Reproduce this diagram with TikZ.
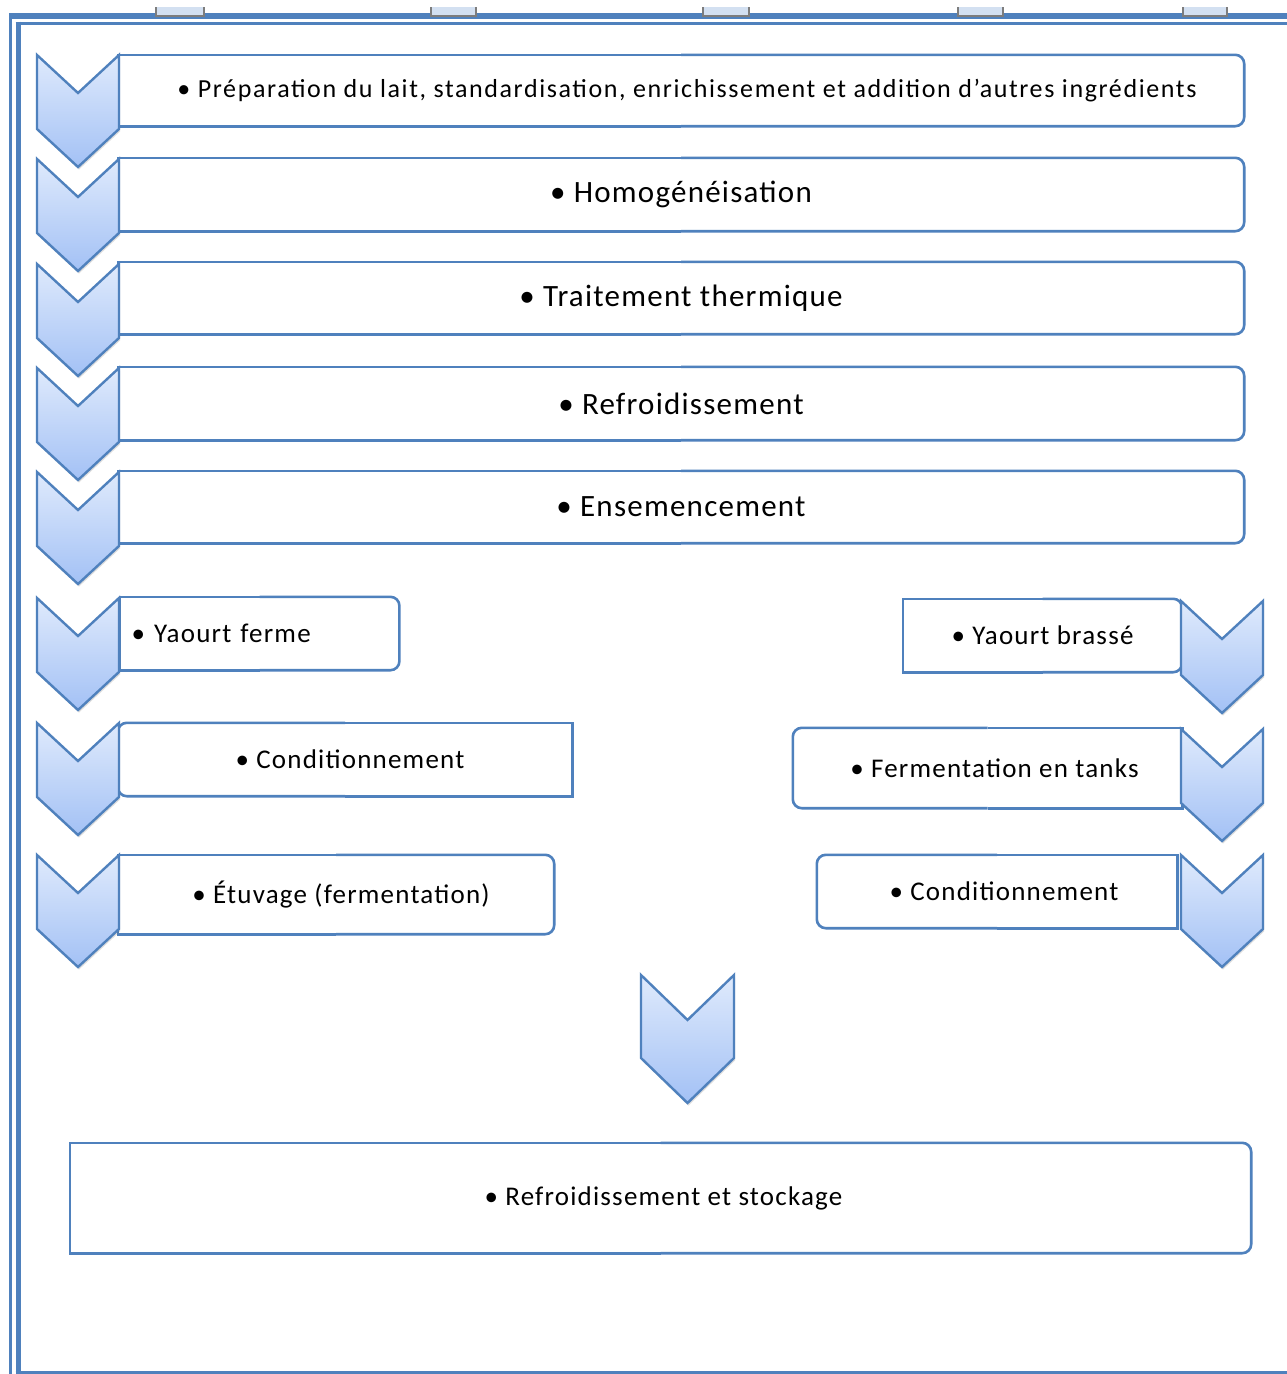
\documentclass[tikz,border=0pt]{standalone}
\usepackage{fontspec}
\setmainfont{Carlito}
\usetikzlibrary{shadows}

\definecolor{frameblue}{RGB}{79,129,189}
\definecolor{chevtop}{RGB}{223,234,252}
\definecolor{chevbot}{RGB}{163,193,245}
\definecolor{tabfill}{RGB}{211,224,241}
\definecolor{tabline}{RGB}{125,125,125}

% size and letter spacing of a label
\newcommand\ft[2]{\fontsize{#1}{#1}\selectfont\addfontfeature{LetterSpace=#2}}

% chevron: left x, top y, width, notch depth, total height
\newcommand\chevr[5]{%
  \path[chev] (#1,#2) -- ++(#3/2,#4) -- ++(#3/2,-#4) -- ++(0,#5-#4)
    -- ++(-#3/2,#4) -- ++(-#3/2,-#4) -- cycle;}

% outline of a box with rounded corners on the right only
\newcommand\roundright[1]{%
  \draw[boxline, rounded corners=9pt] (#1.north) -- (#1.north east) -- (#1.south east) -- (#1.south);
  \draw[boxline] (#1.south) -- (#1.south west) -- (#1.north west) -- (#1.north);}
% outline of a box with rounded corners on the left only
\newcommand\roundleft[1]{%
  \draw[boxline, rounded corners=9pt] (#1.north) -- (#1.north west) -- (#1.south west) -- (#1.south);
  \draw[boxline] (#1.south) -- (#1.south east) -- (#1.north east) -- (#1.north);}

\tikzset{
  stagebox/.style={fill=white, inner sep=0pt, text=black},
  bigtext/.style={font=\ft{31}{4}},
  smalltext/.style={font=\ft{27}{4.5}},
  boxline/.style={draw=frameblue, line width=2.6pt},
  chev/.style={draw=frameblue, line width=2.4pt, line join=miter,
    top color=chevtop, bottom color=chevbot,
    drop shadow={shadow xshift=1pt, shadow yshift=-2.5pt, opacity=.22, fill=black!60}},
  tab/.style={fill=tabfill},
  tabedge/.style={draw=tabline, line width=2pt},
}

\begin{document}
\begin{tikzpicture}[x=1pt, y=-1pt]
\useasboundingbox (0,0) rectangle (1287,1374);
\clip (0,0) rectangle (1287,1374);
\fill[white] (0,0) rectangle (1287,1374);

% page frame (double rule)
\draw[frameblue, line width=3pt] (10.5,13) -- (10.5,1380);
\draw[frameblue, line width=6pt] (9,16) -- (1300,16);
\draw[frameblue, line width=5pt] (18,21.5) -- (18,1373.5);
\draw[frameblue, line width=3pt] (15.5,23.5) -- (1300,23.5);
\draw[frameblue, line width=3pt] (15.5,1372) -- (1300,1372);

% tabs on the top rule
\foreach \a/\b in {155/205, 430/477, 702/750, 957/1004, 1182/1228}{
  \fill[tab] (\a,7) rectangle (\b,17);
  \draw[tabedge] (\a+1,7) -- (\a+1,16) -- (\b-1,16) -- (\b-1,7);
}

% common trunk
\node[stagebox, font=\ft{26}{6.2}, minimum width=1126pt, minimum height=71pt] (prep) at (681,90.5)
  {\hspace*{12pt}• Préparation du lait, standardisation, enrichissement et addition d’autres ingrédients};
\node[stagebox, bigtext, minimum width=1126pt, minimum height=73pt] (homo) at (681,194.5)
  {• Homogénéisation};
\node[stagebox, bigtext, minimum width=1126pt, minimum height=72pt] (trait) at (681,298)
  {• Traitement thermique};
\node[stagebox, bigtext, minimum width=1126pt, minimum height=73pt] (refr) at (681,403.5)
  {• Refroidissement};
\node[stagebox, bigtext, minimum width=1126pt, minimum height=72pt] (ense) at (681,507)
  {• Ensemencement};
\foreach \n in {prep,homo,trait,refr,ense} {\roundright{\n}}

% set yoghurt branch
\node[stagebox, smalltext, anchor=west, minimum width=279pt, minimum height=73pt,
      text width=270pt, align=left] (ferme) at (120,633.5) {\hspace*{7pt}• Yaourt ferme};
\node[stagebox, smalltext, minimum width=454pt, minimum height=73pt] (condA) at (345,759.5)
  {\hspace*{10pt}• Conditionnement};
\node[stagebox, smalltext, minimum width=436pt, minimum height=79pt] (etuv) at (336,894.5)
  {\hspace*{10pt}• Étuvage (fermentation)};
\roundright{ferme}
\roundleft{condA}
\roundright{etuv}

% stirred yoghurt branch
\node[stagebox, smalltext, minimum width=279pt, minimum height=73pt] (brasse) at (1042.5,635.5)
  {• Yaourt brassé};
\node[stagebox, smalltext, minimum width=389pt, minimum height=80pt] (tanks) at (987.5,768)
  {\hspace*{14pt}• Fermentation en tanks};
\node[stagebox, smalltext, minimum width=360pt, minimum height=73pt] (condB) at (997,891.5)
  {\hspace*{14pt}• Conditionnement};
\roundright{brasse}
\roundleft{tanks}
\roundleft{condB}

% final stage
\node[stagebox, smalltext, minimum width=1181pt, minimum height=110pt] (stock) at (660.5,1198)
  {\hspace*{6pt}• Refroidissement et stockage};
\roundright{stock}

% chevrons of the trunk and the left branch
\foreach \t in {55,159,264,368,472,598,723,855}{\chevr{37}{\t}{82}{38}{112}}
% chevrons of the right branch
\foreach \t in {601,729,855}{\chevr{1181}{\t}{82}{38}{112}}
% joining chevron
\chevr{641}{975}{93}{45}{128}
\end{tikzpicture}
\end{document}
